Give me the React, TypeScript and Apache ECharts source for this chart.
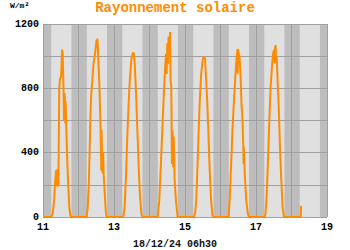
import React, { useEffect, useRef } from "react";
import * as echarts from "echarts";

// Solar irradiance (W/m²), [hour of day, value]
const day11: [number, number][] = [[0, 0], [5.6, 0], [6.5, 20], [7.5, 100], [8.1, 200], [8.8, 290], [9.2, 190], [9.6, 260], [9.9, 300], [10.4, 190], [11.0, 800], [11.5, 860], [12.2, 870], [12.6, 960], [12.9, 1040], [13.3, 1020], [13.8, 830], [14.2, 600], [14.7, 770], [15.1, 580], [15.3, 720], [15.8, 540], [16.4, 350], [17.1, 190], [17.8, 60], [18.5, 10], [19.0, 0]];
const day12: [number, number][] = [[5.5, 0], [6.2, 60], [6.9, 190], [7.5, 400], [8.0, 600], [8.6, 760], [9.4, 850], [10.1, 950], [11.1, 1010], [11.7, 1060], [12.2, 1100], [12.5, 1060], [12.8, 1110], [13.3, 1000], [14.0, 850], [14.5, 700], [14.9, 560], [15.2, 400], [15.4, 290], [15.6, 540], [16.0, 330], [16.3, 270], [16.7, 400], [17.0, 270], [17.9, 120], [18.5, 30], [19.0, 0]];
const day13: [number, number][] = [[5.8, 0], [6.3, 5], [7.2, 60], [8.1, 250], [9.0, 500], [9.9, 705], [10.8, 870], [11.8, 985], [12.7, 1020], [13.3, 1020], [14.0, 955], [14.9, 770], [15.8, 540], [16.7, 310], [17.6, 125], [18.5, 20], [19.2, 0]];
const day14: [number, number][] = [[5.5, 0], [6.6, 100], [7.8, 350], [8.9, 600], [10.0, 820], [10.7, 950], [11.2, 1015], [11.6, 890], [12.0, 1080], [12.5, 950], [12.9, 1120], [13.4, 1000], [13.9, 1150], [14.3, 850], [14.7, 810], [15.2, 330], [15.6, 540], [16.0, 310], [16.4, 500], [17.0, 230], [17.9, 100], [19.0, 0]];
const day15: [number, number][] = [[6.0, 0], [6.9, 30], [7.6, 105], [8.2, 250], [9.1, 500], [10.0, 725], [10.9, 885], [11.8, 965], [12.5, 995], [13.6, 985], [14.0, 900], [14.3, 850], [15.0, 725], [15.9, 500], [16.8, 270], [17.7, 95], [18.6, 10], [19.3, 0]];
const day16: [number, number][] = [[5.5, 0], [6.3, 125], [7.2, 330], [8.1, 540], [9.0, 705], [9.9, 850], [10.6, 955], [11.1, 1015], [11.5, 1040], [11.65, 890], [11.8, 1045], [12.4, 1015], [12.9, 995], [13.6, 870], [14.2, 705], [14.9, 600], [15.4, 435], [15.6, 330], [15.75, 435], [16.5, 250], [17.4, 105], [18.5, 20], [19.2, 0]];
const day17: [number, number][] = [[5.8, 0], [6.4, 20], [7.2, 125], [8.1, 350], [9.0, 600], [9.9, 810], [10.8, 935], [11.5, 1015], [12.2, 1040], [12.6, 955], [12.9, 1060], [13.1, 1000], [13.3, 1070], [13.5, 975], [14.0, 1000], [14.6, 850], [15.3, 705], [16.2, 435], [17.1, 230], [18.0, 60], [18.9, 0]];
const day18: [number, number][] = [[6.25, 0], [6.5, 70]];

const days = [11, 12, 13, 14, 15, 16, 17, 18];
const profiles = [day11, day12, day13, day14, day15, day16, day17, day18];

const xTicks = [11, 13, 15, 17, 19];
const yTicks = [0, 400, 800, 1200];
const sunriseHour = 5.6;
const sunsetHour = 19.25;

const TITLE = "Rayonnement solaire";
const UNIT = "W/m²";
const STAMP = "18/12/24 06h30";

export default function App() {
  const ref = useRef<HTMLDivElement>(null);
  useEffect(() => {
    if (!ref.current) return;
    const chart = echarts.init(ref.current, null, { renderer: "svg" });
    const data: [number, number][] = [];
    days.forEach((d, i) => {
      profiles[i].forEach(([h, v]) => data.push([d + h / 24, v]));
    });
    const bands: any[] = [[{ xAxis: 11 }, { xAxis: 11 + sunriseHour / 24 }]];
    days.forEach((d) => {
      bands.push([{ xAxis: d + sunsetHour / 24 }, { xAxis: Math.min(19, d + 1 + sunriseHour / 24) }]);
    });
    const mono = "Liberation Mono";
    chart.setOption({
      animation: false,
      backgroundColor: "#ffffff",
      title: {
        text: TITLE,
        left: "center",
        top: 1,
        padding: 0,
        textStyle: { color: "#ff8c00", fontFamily: mono, fontWeight: "bold", fontSize: 14 },
      },
      graphic: [
        { type: "text", left: 10, top: 1, style: { text: UNIT, font: `bold 8px "${mono}"`, fill: "#000" } },
        { type: "text", x: 175, y: 244, style: { text: STAMP, font: `bold 10px "${mono}"`, fill: "#111", align: "center", verticalAlign: "middle" } },
      ],
      grid: {
        left: 43, top: 24, width: 284, height: 193,
        show: true, backgroundColor: "#e0e0e0", borderWidth: 0,
      },
      xAxis: {
        type: "value", min: 11, max: 19, interval: 1, z: 3,
        axisLine: { show: false }, axisTick: { show: false },
        splitLine: { show: true, lineStyle: { color: "#a0a0a0", width: 1 } },
        axisLabel: {
          margin: 5, color: "#000", fontFamily: mono, fontWeight: "bold", fontSize: 10,
          formatter: (v: number) => (xTicks.includes(Math.round(v)) ? String(Math.round(v)) : ""),
        },
      },
      yAxis: {
        type: "value", min: 0, max: 1200, interval: 200, z: 3,
        axisLine: { show: false }, axisTick: { show: false },
        splitLine: { show: true, lineStyle: { color: "#a0a0a0", width: 1 } },
        axisLabel: {
          margin: 4, color: "#000", fontFamily: mono, fontWeight: "bold", fontSize: 10,
          formatter: (v: number) => (yTicks.includes(v) ? String(v) : ""),
        },
      },
      series: [
        {
          type: "line", data: [], z: 1, silent: true,
          markArea: { silent: true, itemStyle: { color: "#bdbdbd" }, data: bands },
        },
        {
          type: "line", data, z: 5, symbol: "none", showSymbol: false,
          lineStyle: { color: "#ff8c00", width: 2 },
        },
      ],
    });
    return () => chart.dispose();
  }, []);
  return <div ref={ref} style={{ position: "absolute", left: 0, top: 0, width: 350, height: 250 }} />;
}
